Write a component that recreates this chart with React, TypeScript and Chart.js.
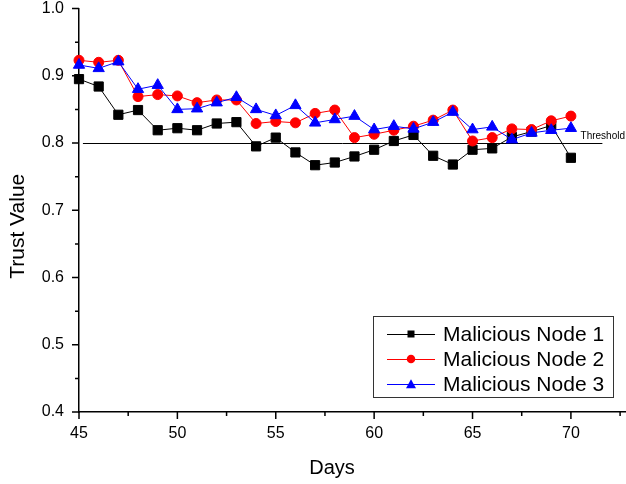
import React, { useEffect, useRef } from "react";
import { Chart, registerables } from "chart.js";

Chart.register(...registerables);

const days = [45, 46, 47, 48, 49, 50, 51, 52, 53, 54, 55, 56, 57, 58, 59, 60, 61, 62, 63, 64, 65, 66, 67, 68, 69, 70];
const node1 = [0.895, 0.884, 0.842, 0.849, 0.819, 0.822, 0.819, 0.829, 0.831, 0.795, 0.808, 0.786, 0.767, 0.771, 0.780, 0.790, 0.803, 0.812, 0.781, 0.768, 0.790, 0.792, 0.809, 0.817, 0.826, 0.778];
const node2 = [0.923, 0.920, 0.923, 0.869, 0.872, 0.870, 0.860, 0.864, 0.864, 0.829, 0.832, 0.830, 0.844, 0.849, 0.808, 0.813, 0.819, 0.825, 0.834, 0.849, 0.803, 0.808, 0.821, 0.820, 0.833, 0.840];
const node3 = [0.916, 0.911, 0.921, 0.880, 0.886, 0.850, 0.851, 0.860, 0.868, 0.850, 0.841, 0.856, 0.830, 0.835, 0.840, 0.820, 0.825, 0.821, 0.831, 0.846, 0.820, 0.824, 0.805, 0.815, 0.819, 0.822];
const seriesNames = ["Malicious Node 1", "Malicious Node 2", "Malicious Node 3"];
const seriesColors = ["#000000", "#ff0000", "#0000ff"];
const seriesMarkers = ["rect", "circle", "triangle"];

const thresholdValue = 0.8;
const thresholdRange = [45.2, 71.6];
const thresholdLabel = "Threshold";

const xRange = [45, 72.8];
const yRange = [0.4, 1.0];
const xMajorTicks = [45, 50, 55, 60, 65, 70];
const xMinorTicks = [47.5, 52.5, 57.5, 62.5, 67.5, 72.5];
const yMajorTicks = [0.4, 0.5, 0.6, 0.7, 0.8, 0.9, 1.0];
const yMinorTicks = [0.45, 0.55, 0.65, 0.75, 0.85, 0.95];

const xTitle = "Days";
const yTitle = "Trust Value";

const FONT = '"Liberation Sans", Arial, Helvetica, sans-serif';

function drawMarker(ctx: CanvasRenderingContext2D, style: string, x: number, y: number, s: number) {
  ctx.beginPath();
  if (style === "rect") {
    ctx.rect(x - s / 2, y - s / 2, s, s);
  } else if (style === "circle") {
    ctx.arc(x, y, s / 2, 0, Math.PI * 2);
  } else {
    const h = s * 0.87;
    ctx.moveTo(x, y - h / 2 - 0.5);
    ctx.lineTo(x + s / 2, y + h / 2);
    ctx.lineTo(x - s / 2, y + h / 2);
    ctx.closePath();
  }
  ctx.fill();
}

const decorPlugin = {
  id: "decor",
  beforeDatasetsDraw(chart: any) {
    const { ctx, scales } = chart;
    const x = scales.x;
    const y = scales.y;
    const py = Math.round(y.getPixelForValue(thresholdValue)) + 0.5;
    ctx.save();
    ctx.strokeStyle = "#000";
    ctx.lineWidth = 1;
    ctx.beginPath();
    ctx.moveTo(x.getPixelForValue(thresholdRange[0]), py);
    ctx.lineTo(x.getPixelForValue(thresholdRange[1]), py);
    ctx.stroke();
    ctx.font = `10px ${FONT}`;
    ctx.fillStyle = "#000";
    ctx.textAlign = "right";
    ctx.textBaseline = "middle";
    ctx.fillText(thresholdLabel, chart.width - 1, py - 7);
    ctx.restore();
  },
  afterDraw(chart: any) {
    const { ctx, scales, chartArea } = chart;
    const x = scales.x;
    const y = scales.y;
    ctx.save();
    ctx.strokeStyle = "#000";
    ctx.lineWidth = 1.5;
    const b = chartArea.bottom;
    ctx.beginPath();
    xMajorTicks.forEach((v) => {
      const px = x.getPixelForValue(v);
      ctx.moveTo(px, b);
      ctx.lineTo(px, b + 7);
    });
    xMinorTicks.forEach((v) => {
      const px = x.getPixelForValue(v);
      ctx.moveTo(px, b);
      ctx.lineTo(px, b + 4);
    });
    const l = chartArea.left;
    yMajorTicks.forEach((v) => {
      const py = y.getPixelForValue(v);
      ctx.moveTo(l, py);
      ctx.lineTo(l - 7, py);
    });
    yMinorTicks.forEach((v) => {
      const py = y.getPixelForValue(v);
      ctx.moveTo(l, py);
      ctx.lineTo(l - 4, py);
    });
    ctx.stroke();

    ctx.fillStyle = "#000";
    ctx.textAlign = "center";
    ctx.textBaseline = "middle";
    ctx.font = `20px ${FONT}`;
    ctx.fillText(xTitle, 332, 468);
    ctx.save();
    ctx.font = `21px ${FONT}`;
    ctx.translate(18, (chartArea.top + chartArea.bottom) / 2 + 16);
    ctx.rotate(-Math.PI / 2);
    ctx.fillText(yTitle, 0, 0);
    ctx.restore();

    const bx = 373.5, by = 316.5, bw = 240, bh = 81;
    ctx.fillStyle = "#fff";
    ctx.fillRect(bx, by, bw, bh);
    ctx.strokeStyle = "#333";
    ctx.lineWidth = 1;
    ctx.strokeRect(bx, by, bw, bh);
    const rows = [334, 359, 384];
    seriesNames.forEach((name, i) => {
      const ry = rows[i];
      ctx.strokeStyle = seriesColors[i];
      ctx.lineWidth = 1;
      ctx.beginPath();
      ctx.moveTo(387, ry + 0.5);
      ctx.lineTo(435, ry + 0.5);
      ctx.stroke();
      ctx.fillStyle = seriesColors[i];
      drawMarker(ctx, seriesMarkers[i], 411, ry, seriesMarkers[i] === "rect" ? 7 : seriesMarkers[i] === "circle" ? 8.5 : 10);
      ctx.fillStyle = "#000";
      ctx.font = `21px ${FONT}`;
      ctx.textAlign = "left";
      ctx.textBaseline = "middle";
      ctx.fillText(name, 443, ry + 1);
    });
    ctx.restore();
  },
};

export default function App() {
  const canvasRef = useRef<HTMLCanvasElement | null>(null);

  useEffect(() => {
    if (!canvasRef.current) return;
    const series = [node1, node2, node3];
    const datasets = series.map((vals, i) => ({
      label: seriesNames[i],
      data: days.map((d, j) => ({ x: d, y: vals[j] })),
      borderColor: seriesColors[i],
      backgroundColor: seriesColors[i],
      borderWidth: 1,
      pointStyle: seriesMarkers[i] as any,
      pointRadius: i === 0 ? 6.5 : i === 1 ? 5 : 6.5,
      pointBorderWidth: 1,
      pointBorderColor: seriesColors[i],
      pointBackgroundColor: seriesColors[i],
      tension: 0,
      fill: false,
      clip: false as any,
      order: 2 - i,
    }));

    const chart = new Chart(canvasRef.current, {
      type: "line",
      data: { datasets: datasets as any },
      options: {
        animation: false,
        responsive: true,
        maintainAspectRatio: false,
        layout: { autoPadding: false, padding: { top: 8.5, left: 0, right: 0, bottom: 0 } },
        plugins: {
          legend: { display: false },
          tooltip: { enabled: false },
          title: { display: false },
        },
        scales: {
          x: {
            type: "linear",
            min: xRange[0],
            max: xRange[1],
            grid: { display: false, drawTicks: false },
            border: { display: true, color: "#000", width: 1.5 },
            ticks: {
              stepSize: 5,
              includeBounds: false,
              color: "#000",
              font: { family: FONT, size: 16 },
              padding: 12,
              maxRotation: 0,
              autoSkip: false,
            },
            afterFit: (scale: any) => {
              scale.height = 72;
              scale.paddingLeft = 0;
              scale.paddingRight = 0;
            },
          },
          y: {
            type: "linear",
            min: yRange[0],
            max: yRange[1],
            grid: { display: false, drawTicks: false },
            border: { display: true, color: "#000", width: 1.5 },
            ticks: {
              stepSize: 0.1,
              color: "#000",
              font: { family: FONT, size: 16 },
              padding: 15,
              callback: (v: any) => Number(v).toFixed(1),
            },
            afterFit: (scale: any) => {
              scale.width = 79;
              scale.paddingTop = 0;
              scale.paddingBottom = 0;
            },
          },
        },
      },
      plugins: [decorPlugin],
    });
    return () => chart.destroy();
  }, []);

  return (
    <div style={{ position: "fixed", left: 0, top: 0, width: 626, height: 484, background: "#fff", overflow: "hidden" }}>
      <canvas ref={canvasRef} />
    </div>
  );
}
